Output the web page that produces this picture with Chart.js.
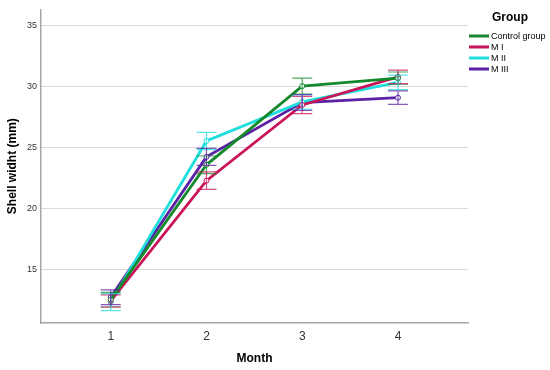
<!DOCTYPE html>
<html>
<head>
<meta charset="utf-8">
<script src="https://cdn.jsdelivr.net/npm/chart.js@4"></script>
<style>
  html, body { margin: 0; padding: 0; background: #fff; }
</style>
</head>
<body>
<canvas id="shellChart" width="550" height="370"></canvas>
<script>
// DATA
const months = [1, 2, 3, 4];
const groups = ["Control group", "M I", "M II", "M III"];

const controlMean = [12.5, 23.55, 30.0, 30.65];
const m1Mean = [12.4, 22.25, 28.45, 30.75];
const m2Mean = [12.3, 25.5, 28.7, 30.3];
const m3Mean = [12.7, 24.2, 28.65, 29.05];

const controlErr = [0.6, 0.72, 0.65, 0.5];
const m1Err = [0.5, 0.72, 0.7, 0.55];
const m2Err = [0.7, 0.7, 0.6, 0.6];
const m3Err = [0.6, 0.7, 0.65, 0.55];

const yTicks = [15, 20, 25, 30, 35];

// COLORS
const green = "#14892c";
const red = "#c9145a";
const cyan = "#1edede";
const purple = "#5a22a6";
const colors = [green, red, cyan, purple];

const means = [controlMean, m1Mean, m2Mean, m3Mean];
const errors = [controlErr, m1Err, m2Err, m3Err];

Chart.defaults.font.family = "'Liberation Sans', Arial, sans-serif";

// ERROR BARS (drawn through the chart scales)
const errorBars = {
  id: "errorBars",
  afterDatasetsDraw(chart) {
    const { ctx, scales: { x, y } } = chart;
    ctx.save();
    ctx.globalAlpha = 0.75;
    ctx.lineWidth = 1.2;
    chart.data.datasets.forEach((ds, i) => {
      ctx.strokeStyle = colors[i];
      ds.data.forEach((pt, j) => {
        const px = x.getPixelForValue(pt.x);
        const top = y.getPixelForValue(pt.y + errors[i][j]);
        const bot = y.getPixelForValue(pt.y - errors[i][j]);
        ctx.beginPath();
        ctx.moveTo(px, top);
        ctx.lineTo(px, bot);
        ctx.moveTo(px - 10, top);
        ctx.lineTo(px + 10, top);
        ctx.moveTo(px - 10, bot);
        ctx.lineTo(px + 10, bot);
        ctx.stroke();
      });
    });
    ctx.restore();
  },
};

// LEGEND
const groupLegend = {
  id: "groupLegend",
  afterDraw(chart) {
    const { ctx } = chart;
    ctx.save();
    ctx.fillStyle = "#000";
    ctx.textBaseline = "middle";
    ctx.font = "bold 12px 'Liberation Sans', Arial, sans-serif";
    ctx.fillText("Group", 492, 18);
    ctx.font = "9px 'Liberation Sans', Arial, sans-serif";
    chart.data.datasets.forEach((ds, i) => {
      const ly = 36 + i * 11;
      ctx.strokeStyle = colors[i];
      ctx.lineWidth = 3;
      ctx.beginPath();
      ctx.moveTo(469, ly);
      ctx.lineTo(489, ly);
      ctx.stroke();
      ctx.fillStyle = "#000";
      ctx.fillText(ds.label, 491, ly + 0.5);
    });
    ctx.restore();
  },
};

const ctx = document.getElementById("shellChart").getContext("2d");

new Chart(ctx, {
  type: "line",
  data: {
    datasets: groups.map((g, i) => ({
      label: g,
      data: months.map((m, j) => ({ x: m, y: means[i][j] })),
      borderColor: colors[i],
      backgroundColor: "#fff",
      borderWidth: 2.8,
      pointRadius: 2.5,
      pointBorderWidth: 1,
      pointBorderColor: colors[i],
      pointBackgroundColor: "#fff",
      tension: 0,
    })),
  },
  options: {
    responsive: false,
    animation: false,
    layout: { padding: { top: 7, right: 82, left: 0, bottom: 0 } },
    scales: {
      x: {
        type: "linear",
        min: 0.272,
        max: 4.731,
        afterBuildTicks: (s) => {
          s.ticks = months.map((v) => ({ value: v }));
        },
        afterFit: (s) => {
          s.height = 47;
        },
        grid: { display: false, drawTicks: false },
        border: { color: "#a6a6a6", width: 1.5 },
        ticks: { padding: 6, color: "#333", font: { size: 12 } },
        title: {
          display: true,
          text: "Month",
          color: "#000",
          font: { size: 12, weight: "bold" },
          padding: { top: 0, bottom: 4 },
        },
      },
      y: {
        min: 10.59,
        max: 36.28,
        afterBuildTicks: (s) => {
          s.ticks = yTicks.map((v) => ({ value: v }));
        },
        afterFit: (s) => {
          s.width = 41;
        },
        grid: { color: "#d9d9d9", drawTicks: false },
        border: { color: "#a6a6a6", width: 1.5 },
        ticks: { padding: 4, color: "#333", font: { size: 9 } },
        title: {
          display: true,
          text: "Shell widht (mm)",
          color: "#000",
          font: { size: 12, weight: "bold" },
          padding: { top: 5, bottom: 0 },
        },
      },
    },
    plugins: {
      legend: { display: false },
      tooltip: { enabled: false },
    },
  },
  plugins: [errorBars, groupLegend],
});
</script>
</body>
</html>
